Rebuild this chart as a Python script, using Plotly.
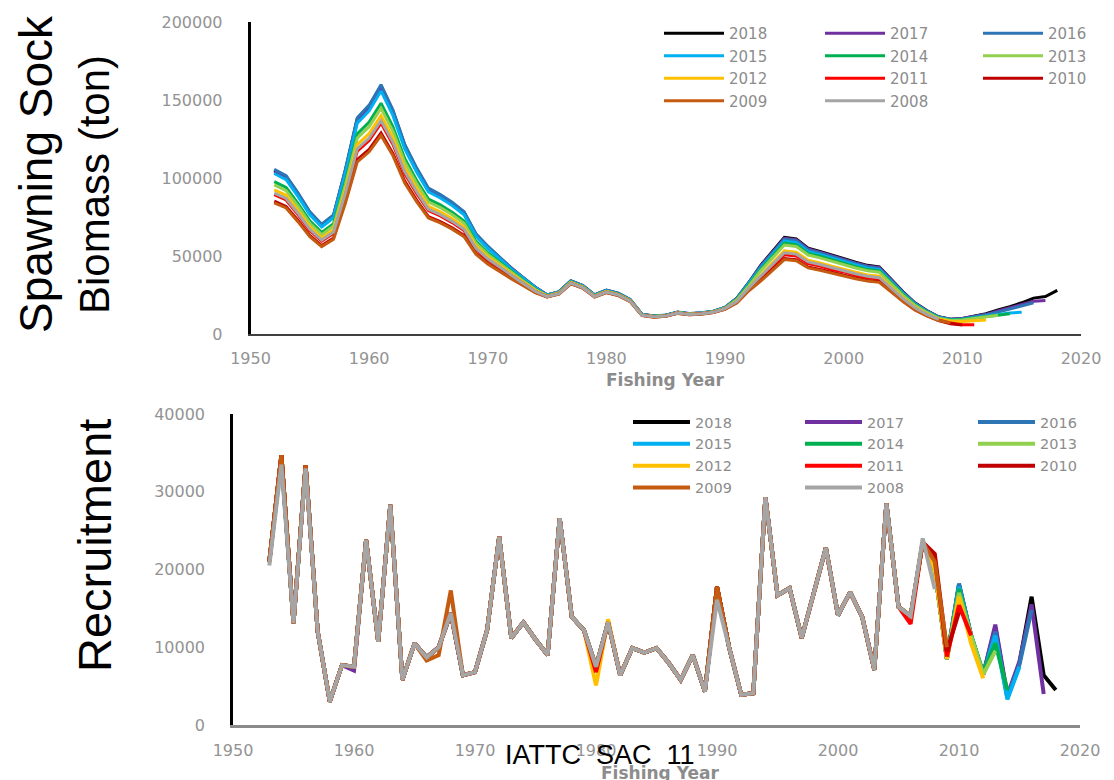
import plotly.graph_objects as go

# ---------------- data ----------------
assessments = [2018, 2017, 2016, 2015, 2014, 2013, 2012, 2011, 2010, 2009, 2008]
ssb_first_year = 1952
rec_first_year = 1953
x_ticks = [1950, 1960, 1970, 1980, 1990, 2000, 2010, 2020]

colors = {2018: "#000000", 2017: "#7030A0", 2016: "#2E75B6", 2015: "#00B0F0",
          2014: "#00B050", 2013: "#92D050", 2012: "#FFC000", 2011: "#FF0000",
          2010: "#C00000", 2009: "#C55A11", 2008: "#A5A5A5"}

# Spawning stock biomass (ton), 1952 .. assessment year
ssb_2018 = [105000, 101000, 90000, 78000, 70000, 76000, 105000, 138000, 146000, 159000,
            143000, 121000, 106000, 93000, 89000, 84000, 78000, 64000, 56000, 49000,
            42000, 36000, 30000, 25000, 27000, 34000, 31000, 25000, 28000, 26000,
            22000, 12500, 11500, 12000, 14000, 13000, 13500, 14500, 17000, 23000,
            33000, 44000, 53000, 62000, 61000, 55000, 53000, 50500, 48500, 46000,
            44000, 43000, 35000, 27000, 20000, 15000, 11000, 9500, 10000, 11500,
            13000, 15500, 17500, 20000, 23000, 24000, 28000]
ssb_2017 = [104000, 100000, 89100, 77200, 69300, 75200, 104000, 136600, 144500, 157400,
            141600, 119800, 104900, 92100, 88100, 83200, 77200, 63400, 55400,
            48800, 41800, 35800, 29900,
            25000, 27000, 34000, 31000, 25000, 28000, 26000, 22000, 12500, 11500, 12000, 14000, 13000, 13500, 14500, 17000,
            23000, 32800,
            43600, 52500, 61400, 60400, 54500, 52500, 50000, 48000, 45500, 43600, 42600, 34700, 26700,
            19800, 14800, 10900, 9400, 9900, 11200, 12600, 14800, 16800, 19000, 21000, 21500]
ssb_2016 = [105500, 101500, 90500, 78400, 70400, 76400, 105500, 138700, 146700, 159800,
            143700, 121600, 106500, 93500, 89400, 84400, 78400, 64300, 56300,
            49200, 42100, 36100, 30000,
            25100, 27100, 34100, 31100, 25100, 28100, 26100, 22100, 12600, 11600, 12100, 14100, 13100, 13600, 14600, 17000,
            22800, 32600,
            43100, 51900, 60800, 59800, 53900, 51900, 49500, 47500, 45100, 43100, 42100, 34300, 26500,
            19600, 14700, 10800, 9300, 9800, 11000, 12300, 14000, 16000, 18000, 20000]
ssb_2015 = [102900, 99000, 88200, 76400, 68600, 74500, 102900, 135200, 143100, 155800,
            140100, 118600, 103900, 91100, 87200, 82300, 76400, 62700, 54900,
            48200, 41400, 35600, 29700,
            24800, 26700, 33700, 30700, 24800, 27700, 25700, 21800, 12400, 11400, 11900, 13900, 12900, 13400, 14400, 16800,
            22500, 32000,
            42200, 50900, 59500, 58600, 52800, 50900, 48500, 46600, 44200, 42200, 41300, 33600, 25900,
            19200, 14400, 10600, 9100, 9500, 10500, 11500, 12500, 13500, 14000]
ssb_2014 = [97700, 93900, 83700, 72500, 65100, 70700, 97700, 128300, 135800, 147900,
            133000, 112500, 98600, 86500, 82800, 78100, 72500, 59500, 52100,
            46100, 39800, 34300, 28800,
            24500, 26500, 33300, 30400, 24500, 27400, 25500, 21600, 12300, 11300, 11800, 13700, 12700, 13200, 14200, 16700,
            22300, 31500,
            41400, 49800, 58300, 57300, 51700, 49800, 47500, 45600, 43200, 41400, 40400, 32900, 25400,
            18800, 14100, 10300, 8900, 9300, 10200, 11000, 12000, 13000]
ssb_2013 = [95600, 91900, 81900, 71000, 63700, 69200, 95600, 125600, 132900, 144700,
            130100, 110100, 96500, 84600, 81000, 76400, 71000, 58200, 51000,
            45200, 39200, 33900, 28500,
            24400, 26400, 33200, 30300, 24400, 27300, 25400, 21500, 12200, 11200, 11700, 13600, 12600, 13100, 14100, 16500,
            21900, 30800,
            40500, 48800, 57000, 56100, 50600, 48800, 46500, 44600, 42300, 40500, 39600, 32200, 24800,
            18400, 13800, 10100, 8700, 9000, 10000, 11000, 12000]
ssb_2012 = [92400, 88900, 79200, 68600, 61600, 66900, 92400, 121400, 128500, 139900,
            125800, 106500, 93300, 81800, 78300, 73900, 68600, 56300, 49300,
            43900, 38200, 33100, 28000,
            24300, 26200, 33000, 30100, 24300, 27200, 25200, 21300, 12100, 11200, 11600, 13600, 12600, 13100, 14100, 16300,
            21200, 29500,
            37800, 45600, 53300, 52500, 47300, 45600, 43400, 41700, 39600, 37800, 37000, 30100, 23200,
            17200, 12900, 9500, 8200, 8000, 8500, 9000]
ssb_2011 = [89300, 85900, 76500, 66300, 59500, 64600, 89300, 117300, 124100, 135200,
            121600, 102900, 90100, 79100, 75700, 71400, 66300, 54400, 47600,
            42400, 37000, 32300, 27300,
            24000, 25900, 32600, 29800, 24000, 26900, 25000, 21100, 12000, 11000, 11500, 13400, 12500, 13000, 13900, 16100,
            20700, 28700,
            36100, 43500, 50800, 50000, 45100, 43500, 41400, 39800, 37700, 36100, 35300, 28700, 22100,
            16400, 12300, 9000, 7000, 6000, 6000]
ssb_2010 = [85100, 81800, 72900, 63200, 56700, 61600, 85100, 111800, 118300, 128800,
            115800, 98000, 85900, 75300, 72100, 68000, 63200, 51800, 45400,
            40400, 35700, 31300, 26700,
            23800, 25700, 32300, 29500, 23800, 26600, 24700, 20900, 11900, 10900, 11400, 13300, 12400, 12800, 13800, 15900,
            20200, 28000,
            34300, 41300, 48400, 47600, 42900, 41300, 39400, 37800, 35900, 34300, 33500, 27300, 21100,
            15600, 11700, 8600, 6500, 5800]
ssb_2009 = [84000, 80800, 72000, 62400, 56000, 60800, 84000, 110400, 116800, 127200,
            114400, 96800, 84800, 74400, 71200, 67200, 62400, 51200, 44800,
            39900, 35300, 31000, 26500,
            23700, 25600, 32200, 29400, 23700, 26500, 24600, 20800, 11800, 10800, 11300, 13200, 12300, 12700, 13700, 15800,
            20000, 27700,
            33900, 40800, 47700, 47000, 42400, 40800, 38900, 37300, 35400, 33900, 33100, 27000, 20800,
            15400, 11600, 8600, 7200]
ssb_2008 = [90300, 86900, 77400, 67100, 60200, 65400, 90300, 118700, 125600, 136700,
            123000, 104100, 91200, 80000, 76500, 72200, 67100, 55000, 48200,
            42900, 37300, 32400, 27400,
            24000, 25900, 32600, 29800, 24000, 26900, 25000, 21100, 12000, 11000, 11500, 13400, 12500, 13000, 13900, 16300,
            21000, 29500,
            37000, 44500, 52100, 51200, 46200, 44500, 42400, 40700, 38600, 37000, 36100, 29400, 22700,
            16800, 12600, 9300]

# Recruitment, 1953 .. assessment year
rec_2018 = [21000, 34700, 13100, 33400, 12000, 3000, 7700, 7500, 23800, 10700,
            28300, 5800, 10500, 8700, 10000, 14400, 6400, 6800, 12200, 24200,
            11200, 13200, 11000, 9000, 26600, 13900, 12200, 7500, 13200, 6400,
            9900, 9300, 9900, 8000, 5800, 9000, 4300, 17800, 10000, 3900,
            4100, 29300, 16700, 17600, 11200, 17000, 22800, 14100, 17100, 13900,
            7100, 28500, 15200, 14000, 23500, 20000, 8500, 18000, 11500, 6500,
            12500, 3600, 8000, 16500, 6400, 4500]
rec_2017 = [21000, 34700, 13100, 33400, 12000, 3000, 7700, 7000, 23800, 10700,
            28300, 5800, 10500, 8700, 10000, 14400, 6400, 6800, 12200, 24200,
            11200, 13200, 11000, 9000, 26600, 13900, 12200, 7500, 13200, 6400,
            9900, 9300, 9900, 8000, 5800, 9000, 4300, 17800, 10000, 3900,
            4100, 29300, 16700, 17600, 11200, 17000, 22800, 14100, 17100, 13900,
            7100, 28500, 15200, 14000, 23500, 20000, 8500, 18000, 11500, 6500,
            12900, 3800, 8200, 15500, 4000]
rec_2016 = [21000, 34700, 13100, 33400, 12000, 3000, 7700, 7500, 23800, 10700,
            28300, 5800, 10500, 8700, 10000, 14400, 6400, 6800, 12200, 24200,
            11200, 13200, 11000, 9000, 26600, 13900, 12200, 7500, 13200, 6400,
            9900, 9300, 9900, 8000, 5800, 9000, 4300, 17800, 10000, 3900,
            4100, 29300, 16700, 17600, 11200, 17000, 22800, 14100, 17100, 13900,
            7100, 28500, 15200, 14000, 23500, 20000, 8500, 18200, 11500, 6500,
            12000, 3500, 7800, 14800]
rec_2015 = [21000, 34000, 13100, 33400, 12000, 3000, 7700, 7500, 23800, 10700,
            28300, 5800, 10500, 8700, 10000, 14400, 6400, 6800, 12200, 24200,
            11200, 13200, 11000, 9000, 26600, 13900, 12200, 7500, 13200, 6400,
            9900, 9300, 9900, 8000, 5800, 9000, 4300, 17800, 10000, 3900,
            4100, 29300, 16700, 17600, 11200, 17000, 22800, 14100, 17100, 13900,
            7100, 28500, 15200, 14000, 23500, 20000, 8500, 17800, 11500, 6500,
            11500, 3300, 7500]
rec_2014 = [21000, 34700, 13100, 33400, 12000, 3000, 7700, 7500, 23800, 10700,
            28300, 5800, 10500, 8700, 10000, 14400, 6400, 6800, 12200, 24200,
            11200, 13200, 11000, 9000, 26600, 13900, 12200, 7500, 13200, 6400,
            9900, 9300, 9900, 8000, 5800, 9000, 4300, 17800, 10000, 3900,
            4100, 29300, 16700, 17600, 11200, 17000, 22800, 14100, 17100, 13900,
            7100, 28500, 15200, 14000, 23500, 20000, 8500, 17500, 11500, 6800,
            10500, 4500]
rec_2013 = [21000, 34700, 13100, 33400, 12000, 3000, 7700, 7500, 23800, 10700,
            28300, 5800, 10500, 8700, 10000, 14400, 6400, 6800, 12200, 24200,
            11200, 13200, 11000, 9000, 26600, 13900, 12200, 7500, 13200, 6400,
            9900, 9300, 9900, 8000, 5800, 9000, 4300, 17800, 10000, 3900,
            4100, 29300, 16700, 17600, 11200, 17000, 22800, 14100, 17100, 13900,
            7100, 28500, 15200, 14000, 23500, 20000, 8500, 17000, 11500, 6500,
            9500]
rec_2012 = [21000, 34700, 13100, 33400, 12000, 3000, 7700, 7500, 23800, 10700,
            28300, 5800, 10500, 8700, 10000, 14400, 6400, 6800, 12200, 24200,
            11200, 13200, 11000, 9000, 26600, 13900, 12200, 5100, 13600, 6400,
            9900, 9300, 9900, 8000, 5800, 9000, 4300, 17800, 10000, 3900,
            4100, 29300, 16700, 17600, 11200, 17000, 22800, 14100, 17100, 13900,
            7100, 28500, 15200, 14000, 23500, 20000, 8500, 16500, 10500, 6000]
rec_2011 = [21000, 34700, 13100, 33400, 12000, 3000, 7700, 7500, 23800, 10700,
            28300, 5800, 10500, 8700, 10000, 14400, 6400, 6800, 12200, 24200,
            11200, 13200, 11000, 9000, 26600, 13900, 12200, 6800, 13200, 6400,
            9900, 9300, 9900, 8000, 5800, 9000, 4300, 17800, 10000, 3900,
            4100, 29300, 16700, 17600, 11200, 17000, 22800, 14100, 17100, 13900,
            7100, 28500, 15200, 13000, 23500, 21500, 8800, 15400, 11500]
rec_2010 = [21000, 34700, 13100, 33400, 12000, 3000, 7700, 7500, 23800, 10700,
            28300, 5800, 10500, 8700, 10000, 14400, 6400, 6800, 12200, 24200,
            11200, 13200, 11000, 9000, 26600, 13900, 12200, 7500, 13200, 6400,
            9900, 9300, 9900, 8000, 5800, 9000, 4300, 17800, 10000, 3900,
            4100, 29300, 16700, 17600, 11200, 17000, 22800, 14100, 17100, 13900,
            7100, 28500, 15200, 14000, 23500, 22000, 9500, 14500]
rec_2009 = [21000, 34700, 13100, 33400, 12000, 3000, 7700, 7500, 23800, 10700,
            28300, 5800, 10500, 8300, 9000, 17300, 6400, 6800, 12200, 24200,
            11200, 13200, 11000, 9000, 26600, 13900, 12200, 7500, 13200, 6400,
            9900, 9300, 9900, 8000, 5800, 9000, 4300, 17800, 10000, 3900,
            4100, 29300, 16700, 17600, 11200, 17000, 22800, 14100, 17100, 13900,
            7100, 28500, 15200, 14000, 23500, 21000, 10000]
rec_2008 = [20500, 33500, 13100, 33000, 12000, 3000, 7700, 7500, 23800, 10700,
            28300, 5800, 10500, 8700, 10000, 14400, 6400, 6800, 12200, 24200,
            11200, 13200, 11000, 9000, 26600, 13900, 12200, 7500, 13200, 6400,
            9900, 9300, 9900, 8000, 5800, 9000, 4300, 16100, 10000, 3900,
            4100, 29300, 16700, 17600, 11200, 17000, 22800, 14100, 17100, 13900,
            7100, 28500, 15200, 14000, 24000, 17500]

ssb = {2018: ssb_2018, 2017: ssb_2017, 2016: ssb_2016, 2015: ssb_2015, 2014: ssb_2014,
       2013: ssb_2013, 2012: ssb_2012, 2011: ssb_2011, 2010: ssb_2010, 2009: ssb_2009,
       2008: ssb_2008}
rec = {2018: rec_2018, 2017: rec_2017, 2016: rec_2016, 2015: rec_2015, 2014: rec_2014,
       2013: rec_2013, 2012: rec_2012, 2011: rec_2011, 2010: rec_2010, 2009: rec_2009,
       2008: rec_2008}

# ---------------- figure ----------------
W, H = 1114, 780
def px(x):
    return x / W
def py(y):
    return 1 - y / H

fig = go.Figure()
top_leg = ["legend", "legend2", "legend3"]
bot_leg = ["legend4", "legend5", "legend6"]

for i, yr in enumerate(assessments):
    xs = list(range(ssb_first_year, yr + 1))
    assert len(xs) == len(ssb[yr]), (yr, len(xs), len(ssb[yr]))
    fig.add_trace(go.Scatter(x=xs, y=ssb[yr], mode="lines", name=str(yr),
                             line=dict(color=colors[yr], width=3),
                             legend=top_leg[i % 3], xaxis="x", yaxis="y"))
for i, yr in enumerate(assessments):
    xs = list(range(rec_first_year, yr + 1))
    assert len(xs) == len(rec[yr]), (yr, len(xs), len(rec[yr]))
    fig.add_trace(go.Scatter(x=xs, y=rec[yr], mode="lines", name=str(yr),
                             line=dict(color=colors[yr], width=4),
                             legend=bot_leg[i % 3], xaxis="x2", yaxis="y2"))

tick_font = dict(family="DejaVu Sans", size=16, color="#939393")
common_x = dict(range=[1950, 2020], tickvals=x_ticks, showgrid=False, zeroline=False,
                ticks="", tickfont=tick_font, showline=True, ticklabelstandoff=9)
common_y = dict(showgrid=False, zeroline=False, ticks="", tickfont=tick_font,
                showline=True, linecolor="#000000", linewidth=2.5, tickformat="d",
                ticklabelstandoff=22)

legend_common = dict(xanchor="left", yanchor="top", bgcolor="rgba(0,0,0,0)",
                     borderwidth=0, orientation="v", tracegroupgap=0)
top_font = dict(family="DejaVu Sans", size=15, color="#8c8c8c")
bot_font = dict(family="DejaVu Sans", size=14.5, color="#8c8c8c")

fig.update_layout(
    width=W, height=H, margin=dict(l=0, r=0, t=0, b=0, autoexpand=False),
    paper_bgcolor="white", plot_bgcolor="white", showlegend=True,
    xaxis=dict(domain=[px(250.5), px(1081)], anchor="y", linecolor="#404040", linewidth=1.5, **common_x),
    yaxis=dict(domain=[py(334), py(22)], anchor="x", range=[0, 200000], dtick=50000, **common_y),
    xaxis2=dict(domain=[px(233), px(1080)], anchor="y2", linecolor="#8a8a8a", linewidth=2.5, **common_x),
    yaxis2=dict(domain=[py(725), py(414)], anchor="x2", range=[0, 40000], dtick=10000, **common_y),
    legend=dict(x=px(659), y=py(17), font=top_font, itemwidth=60, **legend_common),
    legend2=dict(x=px(820), y=py(17), font=top_font, itemwidth=60, **legend_common),
    legend3=dict(x=px(978), y=py(17), font=top_font, itemwidth=60, **legend_common),
    legend4=dict(x=px(628), y=py(406), font=bot_font, itemwidth=57, **legend_common),
    legend5=dict(x=px(800), y=py(406), font=bot_font, itemwidth=57, **legend_common),
    legend6=dict(x=px(973), y=py(406), font=bot_font, itemwidth=57, **legend_common),
)

big = dict(family="Liberation Sans", color="#000000")
annos = [
    dict(text="Spawning Sock", x=px(36), y=py(174), textangle=-90, font=dict(size=46, **big)),
    dict(text="Biomass (ton)", x=px(94), y=py(185), textangle=-90, font=dict(size=42, **big)),
    dict(text="Recruitment", x=px(94), y=py(546), textangle=-90, font=dict(size=47, **big)),
    dict(text="Fishing Year", x=px(665), y=py(380),
         font=dict(family="DejaVu Sans", size=17, color="#8c8c8c", weight="bold")),
    dict(text="Fishing Year", x=px(660), y=py(773),
         font=dict(family="DejaVu Sans", size=17, color="#8c8c8c", weight="bold")),
    dict(text="IATTC\u00a0\u00a0SAC\u00a0\u00a011", x=px(600), y=py(755),
         font=dict(size=27, **big)),
]
for a in annos:
    fig.add_annotation(xref="paper", yref="paper", showarrow=False,
                       xanchor="center", yanchor="middle", **a)

fig.write_html("out.html")
